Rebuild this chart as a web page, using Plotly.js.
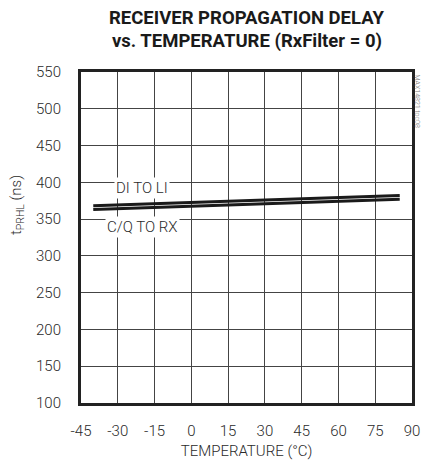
<!DOCTYPE html>
<html>
<head>
<meta charset="utf-8">
<script src="https://cdn.plot.ly/plotly-3.0.1.min.js"></script>
<style>html,body{margin:0;padding:0;background:#fff;}#chart{width:422px;height:466px;}</style>
</head>
<body>
<div id="chart"></div>
<script>
const temperature = [-40, 25, 85];
const diToLi = [368, 375, 382];
const cqToRx = [363, 370, 377];
const xTicks = [-45, -30, -15, 0, 15, 30, 45, 60, 75, 90];
const yTicks = [100, 150, 200, 250, 300, 350, 400, 450, 500, 550];
const seriesNames = ['DI TO LI', 'C/Q TO RX'];
const titleLines = ['RECEIVER PROPAGATION DELAY', 'vs. TEMPERATURE (RxFilter = 0)'];

const FONT = 'Roboto, "Liberation Sans", sans-serif';
const TXT = {family: FONT, size: 15, color: '#2a2a2a', weight: 300};

const traces = [
  {x: temperature, y: diToLi, name: seriesNames[0], mode: 'lines', line: {color: '#1a1a1a', width: 3}},
  {x: temperature, y: cqToRx, name: seriesNames[1], mode: 'lines', line: {color: '#1a1a1a', width: 3}}
];

const layout = {
  width: 422, height: 466,
  margin: {l: 81, r: 10, t: 72, b: 63},
  paper_bgcolor: '#fff', plot_bgcolor: '#fff',
  showlegend: false,
  font: TXT,
  xaxis: {
    range: [-45, 90], tickvals: xTicks, ticktext: xTicks.map(String),
    showgrid: true, gridcolor: '#444', gridwidth: 1,
    showline: true, mirror: true, linecolor: '#222', linewidth: 3,
    zeroline: false, ticks: '', ticklen: 0, ticklabelstandoff: 12,
    tickfont: TXT,
    title: {text: 'TEMPERATURE (°C)', font: TXT, standoff: 7}
  },
  yaxis: {
    range: [100, 550], tickvals: yTicks, ticktext: yTicks.map(String),
    showgrid: true, gridcolor: '#444', gridwidth: 1,
    showline: true, mirror: true, linecolor: '#222', linewidth: 3,
    zeroline: false, ticks: '', ticklen: 0, ticklabelstandoff: 14,
    tickfont: TXT
  },
  annotations: [
    {x: 0.5, y: 1, xref: 'paper', yref: 'paper', yanchor: 'middle', yshift: 54,
     text: '<b>' + titleLines[0] + '</b>', showarrow: false,
     font: {family: FONT, size: 18.5, color: '#1a1a1a'}},
    {x: 0.5, y: 1, xref: 'paper', yref: 'paper', yanchor: 'middle', yshift: 31,
     text: '<b>' + titleLines[1] + '</b>', showarrow: false,
     font: {family: FONT, size: 18.5, color: '#1a1a1a'}},
    {x: 0, y: 0.598, xref: 'paper', yref: 'paper', xanchor: 'center', yanchor: 'middle', xshift: -64,
     text: 't<sub>PRHL</sub> (ns)', showarrow: false, textangle: -90, font: TXT},
    {x: -20, y: 392, xref: 'x', yref: 'y', text: seriesNames[0], showarrow: false,
     bgcolor: '#fff', font: TXT, borderpad: 1},
    {x: -20, y: 339, xref: 'x', yref: 'y', text: seriesNames[1], showarrow: false,
     bgcolor: '#fff', font: TXT, borderpad: 1},
    {x: 1.0, y: 1.0, xref: 'paper', yref: 'paper', xanchor: 'center', yanchor: 'top', xshift: 5,
     text: 'MAX14821 toc08', showarrow: false, textangle: 90,
     font: {family: FONT, size: 7, color: '#777'}}
  ]
};

Plotly.newPlot('chart', traces, layout, {displayModeBar: false, staticPlot: true});
</script>
</body>
</html>
